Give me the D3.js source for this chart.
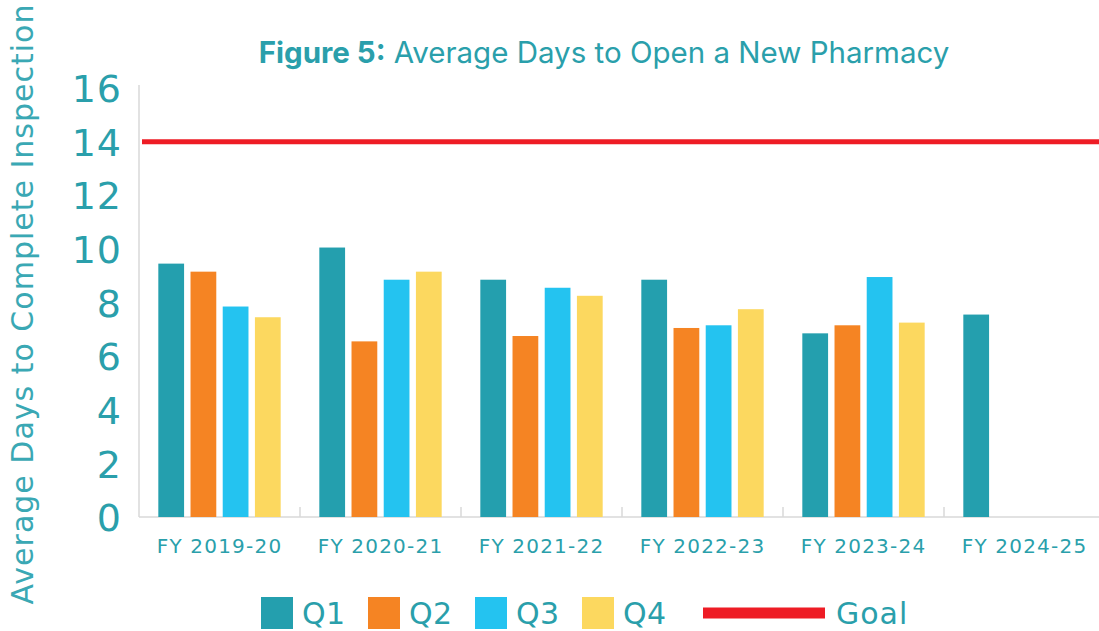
<!DOCTYPE html>
<html>
<head>
<meta charset="utf-8">
<script src="https://cdn.jsdelivr.net/npm/d3@7"></script>
<style>
	body { margin: 0; background: #fff; }
	svg { display: block; }
</style>
</head>
<body>
<svg id="chart"></svg>
<script>
let years = ["FY 2019-20", "FY 2020-21", "FY 2021-22", "FY 2022-23", "FY 2023-24", "FY 2024-25"];
let quarters = ["Q1", "Q2", "Q3", "Q4"];
let q1 = [9.45, 10.05, 8.85, 8.85, 6.85, 7.55];
let q2 = [9.15, 6.55, 6.75, 7.05, 7.15, null];
let q3 = [7.85, 8.85, 8.55, 7.15, 8.95, null];
let q4 = [7.45, 9.15, 8.25, 7.75, 7.25, null];
let goal = 14;
let yTicks = [0, 2, 4, 6, 8, 10, 12, 14, 16];

let colors = ["#249fae", "#f58423", "#24c3f0", "#fcd85f"];
let teal = "#2a9fab";

function makeChart() {
	let w = 1099;
	let h = 631;

	let marginT = 88;
	let marginL = 139;
	let marginB = 114;

	let series = [q1, q2, q3, q4];
	let dataset = years.map((y, i) => ({
		year: y,
		values: quarters.map((q, j) => ({ q: q, v: series[j][i] }))
	}));

	let chart = d3.select('#chart')
		.attr('width', w)
		.attr('height', h);

	let x0 = d3.scaleBand()
		.domain(years)
		.range([marginL, marginL + 6 * 161]);

	let x1 = d3.scaleBand()
		.domain(quarters)
		.range([x0.bandwidth() * 0.1, x0.bandwidth() * 0.9])
		.paddingInner(0.2)
		.paddingOuter(0.1);

	let yScale = d3.scaleLinear()
		.domain([0, 16])
		.range([h - marginB, marginT]);

	// light grey axis lines
	chart.append('line')
		.attr('x1', marginL).attr('x2', marginL)
		.attr('y1', yScale(16) - 3).attr('y2', yScale(0))
		.attr('stroke', '#d9d9d9').attr('stroke-width', 1.5);

	chart.append('line')
		.attr('x1', marginL).attr('x2', w)
		.attr('y1', yScale(0)).attr('y2', yScale(0))
		.attr('stroke', '#d9d9d9').attr('stroke-width', 1.5);

	chart.selectAll('.sep')
		.data(years.slice(1))
		.enter()
		.append('line')
		.attr('x1', d => x0(d)).attr('x2', d => x0(d))
		.attr('y1', yScale(0) - 10).attr('y2', yScale(0))
		.attr('stroke', '#d9d9d9').attr('stroke-width', 1.5);

	// BARS
	const g = chart.append('g')
		.selectAll('g')
		.data(dataset)
		.enter()
		.append('g')
		.attr('transform', d => `translate(${x0(d.year)},0)`);

	g.selectAll('rect')
		.data(d => d.values.filter(v => v.v != null))
		.enter()
		.append('rect')
		.attr('x', d => x1(d.q))
		.attr('width', x1.bandwidth())
		.attr('y', d => yScale(d.v))
		.attr('height', d => yScale(0) - yScale(d.v))
		.attr('fill', d => colors[quarters.indexOf(d.q)]);

	// goal line
	chart.append('line')
		.attr('x1', marginL + 3).attr('x2', w)
		.attr('y1', yScale(goal)).attr('y2', yScale(goal))
		.attr('stroke', '#ee1c25').attr('stroke-width', 5);

	//AXES
	let yAxis = d3.axisLeft(yScale)
		.tickValues(yTicks)
		.tickSize(0)
		.tickPadding(17);

	chart.append('g')
		.attr('transform', `translate(${marginL}, 0)`)
		.call(yAxis)
		.call(a => a.select('.domain').remove())
		.selectAll('text')
		.attr('fill', teal)
		.attr('dy', '0.36em')
		.style('font-family', '"DejaVu Sans", sans-serif')
		.style('font-size', '38px')
		.style('letter-spacing', '1px');

	let xAxis = d3.axisBottom(x0).tickSize(0).tickPadding(22);

	chart.append('g')
		.attr('transform', `translate(0, ${yScale(0)})`)
		.call(xAxis)
		.call(a => a.select('.domain').remove())
		.selectAll('text')
		.attr('fill', teal)
		.style('font-family', '"DejaVu Sans", sans-serif')
		.style('font-size', '20px')
		.style('letter-spacing', '1.2px');

	// LABELS
	let title = chart.append('text')
		.attr('x', 604)
		.attr('y', 63)
		.attr('fill', teal)
		.style('text-anchor', 'middle')
		.style('font-family', 'Inter, Roboto, sans-serif')
		.style('font-size', '29.5px');
	title.append('tspan').style('font-weight', 'bold').text('Figure 5:');
	title.append('tspan').text(' Average Days to Open a New Pharmacy');

	chart.append('text')
		.attr('transform', 'rotate(-90)')
		.attr('x', -304)
		.attr('y', 33)
		.attr('fill', '#3aa8b4')
		.style('text-anchor', 'middle')
		.style('font-family', '"DejaVu Sans", sans-serif')
		.style('font-size', '30px')
		.style('letter-spacing', '1px')
		.text('Average Days to Complete Inspection');

	// LEGEND
	let legend = chart.append('g');
	quarters.forEach((q, i) => {
		let lx = 261 + i * 107;
		legend.append('rect')
			.attr('x', lx).attr('y', 597)
			.attr('width', 32).attr('height', 32)
			.attr('fill', colors[i]);
		legend.append('text')
			.attr('x', lx + 41).attr('y', 624)
			.attr('fill', teal)
			.style('font-family', '"DejaVu Sans", sans-serif')
			.style('font-size', '30px')
			.style('letter-spacing', '0.5px')
			.text(q);
	});

	legend.append('line')
		.attr('x1', 703).attr('x2', 825)
		.attr('y1', 613).attr('y2', 613)
		.attr('stroke', '#ee1c25').attr('stroke-width', 11);

	legend.append('text')
		.attr('x', 836).attr('y', 624)
		.attr('fill', teal)
		.style('font-family', '"DejaVu Sans", sans-serif')
		.style('font-size', '30px')
		.style('letter-spacing', '1px')
		.text('Goal');
}

window.onload = function () {
	makeChart();
}
</script>
</body>
</html>
